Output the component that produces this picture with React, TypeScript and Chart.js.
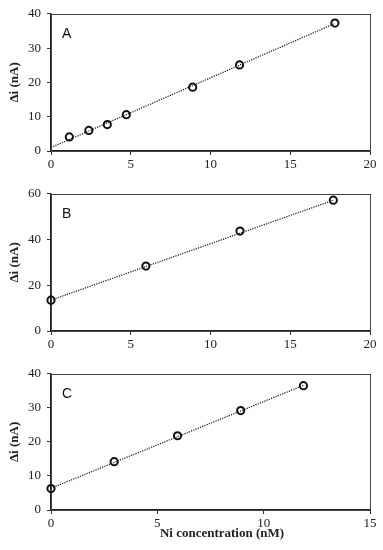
import React, { useEffect, useRef } from "react";
import { Chart, registerables } from "chart.js";
Chart.register(...registerables);

// Panel A
const xA = [1.15, 2.37, 3.53, 4.72, 8.88, 11.82, 17.8];
const yA = [4.1, 6.0, 7.7, 10.6, 18.6, 25.1, 37.3];
const fitXA = [0, 17.8];
const fitYA = [1.0, 37.2];
// Panel B
const xB = [0, 5.95, 11.85, 17.7];
const yB = [13.5, 28.4, 43.7, 57.2];
const fitXB = [0, 17.7];
const fitYB = [13.5, 57.2];
// Panel C
const xC = [0, 2.97, 5.95, 8.92, 11.87];
const yC = [6.3, 14.2, 21.8, 29.2, 36.5];
const fitXC = [0, 11.87];
const fitYC = [6.4, 36.6];

const yAxisTitle = "\u0394i (nA)";
const xAxisTitle = "Ni concentration (nM)";

const SERIF = '"Liberation Serif", "Times New Roman", serif';
const SANS = '"Liberation Sans", Arial, sans-serif';

const boxPlugin = {
  id: "box",
  beforeDatasetsDraw(chart: any) {
    const { ctx, chartArea: a } = chart;
    ctx.save();
    ctx.strokeStyle = "#444";
    ctx.lineWidth = 1;
    ctx.strokeRect(Math.round(a.left) + 0.5, Math.round(a.top) + 0.5, Math.round(a.right - a.left), Math.round(a.bottom - a.top));
    ctx.restore();
  },
  afterDraw(chart: any, _args: any, opts: any) {
    const { ctx, chartArea: a } = chart;
    ctx.save();
    ctx.font = "14px " + SANS;
    ctx.fillStyle = "#111";
    ctx.textBaseline = "alphabetic";
    ctx.textAlign = "left";
    ctx.fillText(opts.text, a.left + 11, a.top + 24);
    if (opts.xTitle) {
      ctx.font = "bold 13px " + SERIF;
      ctx.fillStyle = "#222";
      ctx.textAlign = "center";
      ctx.textBaseline = "middle";
      ctx.fillText(opts.xTitle, a.left + 171, a.bottom + 24);
    }
    ctx.restore();
  },
};

type PanelProps = {
  label: string;
  xs: number[];
  ys: number[];
  fx: number[];
  fy: number[];
  xMax: number;
  yMax: number;
  yStep: number;
  height: number;
  xAxisH: number;
  showXTitle: boolean;
};

function Panel(p: PanelProps) {
  const ref = useRef<HTMLCanvasElement | null>(null);
  useEffect(() => {
    if (!ref.current) return;
    const pts = p.xs.map((x, i) => ({ x, y: p.ys[i] }));
    const fit = p.fx.map((x, i) => ({ x, y: p.fy[i] }));
    const tickFont = { family: SERIF, size: 13 };
    const chart = new Chart(ref.current, {
      type: "scatter",
      data: {
        datasets: [
          {
            data: pts,
            pointStyle: "circle",
            pointRadius: 3.6,
            pointBorderWidth: 2,
            borderColor: "#111",
            backgroundColor: "rgba(255,255,255,0)",
            clip: false as any,
            order: 2,
          },
          {
            data: fit,
            showLine: true,
            borderColor: "#222",
            borderWidth: 1.3,
            borderDash: [1.2, 1.2],
            pointRadius: 0,
            clip: false as any,
            order: 1,
          },
        ],
      },
      options: {
        animation: false,
        responsive: false,
        layout: { padding: { top: 10, right: 13, left: 0, bottom: 0 } },
        plugins: {
          legend: { display: false },
          tooltip: { enabled: false },
          box: { text: p.label, xTitle: p.showXTitle ? xAxisTitle : "" },
        } as any,
        scales: {
          x: {
            type: "linear",
            min: 0,
            max: p.xMax,
            ticks: { stepSize: 5, font: tickFont, color: "#222", padding: 2, maxRotation: 0 },
            grid: { drawOnChartArea: false, drawTicks: true, tickLength: 4, color: "#333" },
            border: { display: true, color: "#222", width: 1.5 },
            afterFit: (s: any) => {
              s.height = p.xAxisH;
            },
          },
          y: {
            type: "linear",
            min: 0,
            max: p.yMax,
            ticks: { stepSize: p.yStep, font: tickFont, color: "#222", padding: 6 },
            grid: { drawOnChartArea: false, drawTicks: true, tickLength: 4, color: "#333" },
            border: { display: true, color: "#222", width: 1.5 },
            title: {
              display: true,
              text: yAxisTitle,
              font: { family: SERIF, size: 13, weight: "bold" },
              color: "#222",
              padding: { top: 7, bottom: 0 },
            },
            afterFit: (s: any) => {
              s.width = 51;
            },
          },
        },
      },
      plugins: [boxPlugin],
    });
    return () => chart.destroy();
  }, []);
  return (
    <div style={{ width: 383, height: p.height, position: "relative" }}>
      <canvas ref={ref} width={383} height={p.height} style={{ display: "block" }} />
    </div>
  );
}

export default function App() {
  return (
    <div style={{ position: "absolute", left: 0, top: 0, width: 383, height: 550, background: "#fff" }}>
      <Panel label="A" xs={xA} ys={yA} fx={fitXA} fy={fitYA} xMax={20} yMax={40} yStep={10} height={180} xAxisH={29} showXTitle={false} />
      <Panel label="B" xs={xB} ys={yB} fx={fitXB} fy={fitYB} xMax={20} yMax={60} yStep={20} height={180} xAxisH={29} showXTitle={false} />
      <Panel label="C" xs={xC} ys={yC} fx={fitXC} fy={fitYC} xMax={15} yMax={40} yStep={10} height={190} xAxisH={40} showXTitle={true} />
    </div>
  );
}
